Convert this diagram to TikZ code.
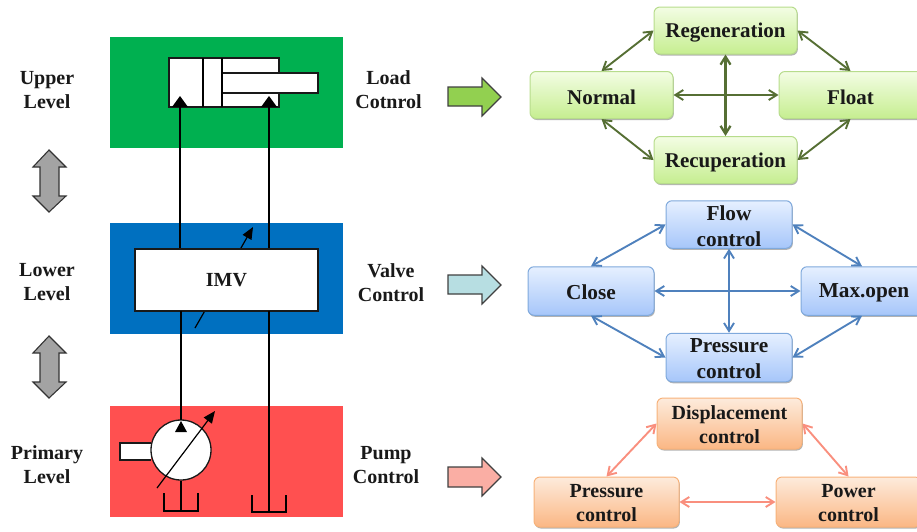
\documentclass[tikz,border=0pt]{standalone}
\usepackage{fontspec}
\setmainfont{Liberation Serif}
\usetikzlibrary{shadows,arrows.meta}
\definecolor{gTop}{HTML}{F3FDE4}\definecolor{gBot}{HTML}{C6EE90}\definecolor{gEdge}{HTML}{B7DC8C}\definecolor{gLine}{HTML}{566F34}
\definecolor{bTop}{HTML}{E6F0FF}\definecolor{bBot}{HTML}{A6C6FA}\definecolor{bEdge}{HTML}{7FA9DC}\definecolor{bLine}{HTML}{4F81BD}
\definecolor{oTop}{HTML}{FDEBDC}\definecolor{oBot}{HTML}{FBB784}\definecolor{oEdge}{HTML}{F7B27A}\definecolor{oLine}{HTML}{F98F7E}
\tikzset{
  x=1pt,y=-1pt,
  lbl/.style={font=\fontsize{20}{24}\selectfont\bfseries,align=center,text=black!90,inner sep=0pt},
  state/.style={rounded corners=6pt,line width=1pt,inner sep=0pt,
    drop shadow={shadow xshift=0.8pt,shadow yshift=-1.5pt,opacity=.3,fill=black}},
  gtext/.style={label={[yshift=-2pt,inner sep=0pt,align=center,text=black!90,font=\fontsize{21}{25}\selectfont\bfseries]center:{#1}}},
  btext/.style={label={[yshift=-1.5pt,inner sep=0pt,align=center,text=black!90,font=\fontsize{21.3}{26}\selectfont\bfseries]center:{#1}}},
  otext/.style={label={[yshift=-1.5pt,inner sep=0pt,align=center,text=black!90,font=\fontsize{20}{24}\selectfont\bfseries]center:{#1}}},
  gstate/.style={state,draw=gEdge,top color=gTop,bottom color=gBot},
  bstate/.style={state,draw=bEdge,top color=bTop,bottom color=bBot},
  ostate/.style={state,draw=oEdge,top color=oTop,bottom color=oBot},
  link/.style={line width=1.9pt,{Straight Barb[length=8pt,width=10pt]}-{Straight Barb[length=8pt,width=10pt]}},
  panel/.style={draw=none,minimum width=233pt,minimum height=111pt,inner sep=0pt},
  sym/.style={draw=black!90,line width=1.3pt,fill=white},
  pipe/.style={draw=black,line width=1.35pt},
  tip/.style={fill=black,draw=none},
  bigarrow/.style={draw=black!75,line width=1.1pt,line join=miter},
  updown/.style={draw=black!80,line width=1.1pt,fill=black!36},
  vary/.style={line width=1.2pt,-{Triangle[length=12pt,width=10pt]}}
}
\begin{document}
\begin{tikzpicture}
\useasboundingbox (0,0) rectangle (917,531);
\clip (0,0) rectangle (917,531);
% panels
\node[panel,fill={rgb,255:red,0;green,176;blue,80}] (pgreen) at (226.5,92) {};
\node[panel,fill={rgb,255:red,0;green,112;blue,192}] (pblue) at (226,278.5) {};
\node[panel,fill={rgb,255:red,255;green,80;blue,80}] (pred) at (226,461.5) {};
% left labels
\node[lbl] (upper) at (47,90) {Upper\\Level};
\node[lbl] (lower) at (47,282.5) {Lower\\Level};
\node[lbl] (primary) at (47,465) {Primary\\Level};
\node[lbl] (load) at (388.5,89.5) {Load\\Cotnrol};
\node[lbl] (valve) at (391,282.5) {Valve\\Control};
\node[lbl] (pump) at (386,465) {Pump\\Control};
% updown arrows
\draw[updown] (49,150) -- (66,167) -- (59,167) -- (59,196) -- (66,196) -- (49,212) -- (33,196) -- (40,196) -- (40,167) -- (33,167) -- cycle;
\draw[updown] (49,336) -- (66,353) -- (59,353) -- (59,382) -- (66,382) -- (49,398) -- (33,382) -- (40,382) -- (40,353) -- (33,353) -- cycle;
% big arrows
\draw[bigarrow,fill={rgb,255:red,146;green,208;blue,80}] (448,87) -- (482,87) -- (482,78) -- (501,97) -- (482,116) -- (482,106) -- (448,106) -- cycle;
\draw[bigarrow,fill={rgb,255:red,183;green,222;blue,226}] (448,275) -- (482,275) -- (482,266) -- (501,285) -- (482,304) -- (482,294) -- (448,294) -- cycle;
\draw[bigarrow,fill={rgb,255:red,250;green,174;blue,164}] (448,467) -- (482,467) -- (482,458) -- (501,477) -- (482,496) -- (482,487) -- (448,487) -- cycle;
% pump shaft and circle
\draw[sym] (151,443) -- (120,443) -- (120,460) -- (151,460);
\node[sym,circle,minimum size=60pt,inner sep=0pt] (pumpc) at (181,450) {};
% valve variable arrow
\draw[vary] (195,328) -- (253,227);
% IMV
\node[sym,minimum width=183pt,minimum height=62pt,inner sep=0pt,font=\fontsize{20}{24}\selectfont\bfseries,text=black!90] (imv) at (226.5,280) {IMV};
% cylinder
\node[sym,minimum width=110pt,minimum height=49pt,inner sep=0pt] (cyl) at (224,82.5) {};
\node[sym,minimum width=96pt,minimum height=20pt,inner sep=0pt] (rod) at (270,83) {};
\draw[pipe] (203,58) -- (203,107) (222,58) -- (222,107);
\coordinate (portA) at (180,107);
\coordinate (portB) at (269,107);
\fill[tip] (180,96) -- (188,107) -- (172,107) -- cycle;
\fill[tip] (269,96) -- (277,107) -- (261,107) -- cycle;
% pipes
\coordinate (imvA) at (180,248);
\coordinate (imvB) at (269,248);
\coordinate (imvC) at (181,311);
\coordinate (imvD) at (269,311);
\coordinate (pumpTop) at (181,420);
\coordinate (tankA) at (181,511);
\coordinate (tankB) at (269,512);
\draw[pipe] (portA) -- (imvA);
\draw[pipe] (portB) -- (imvB);
\draw[pipe] (imvC) -- (pumpTop);
\draw[pipe] (imvD) -- (tankB);
\draw[pipe] (pumpc.south) -- (tankA);
\draw[pipe] (164,493) -- (164,511) -- (198,511) -- (198,493);
\draw[pipe] (252,495) -- (252,512) -- (286,512) -- (286,495);
\fill[tip] (181,421) -- (187,432) -- (175,432) -- cycle;
\draw[vary] (157,488) -- (215,411);
% upper states
\node[gstate,gtext={Regeneration},minimum width=143pt,minimum height=47pt] (regen) at (725.5,30.5) {};
\node[gstate,gtext={Normal},minimum width=143pt,minimum height=47pt] (normal) at (601.5,95) {};
\node[gstate,gtext={Float},minimum width=143pt,minimum height=47pt] (float) at (850.5,95) {};
\node[gstate,gtext={Recuperation},minimum width=143pt,minimum height=47pt] (recup) at (725.5,160) {};
\draw[link,gLine] (regen.west) -- (normal.north);
\draw[link,gLine] (regen.east) -- (float.north);
\draw[link,gLine] (recup.west) -- (normal.south);
\draw[link,gLine] (recup.east) -- (float.south);
\draw[link,gLine] (normal.east) -- (float.west);
\draw[link,gLine,line width=2.3pt] (regen.south) -- (recup.north);
% middle states
\node[bstate,btext={Flow\\control},minimum width=126pt,minimum height=47.5pt] (flow) at (729,224.5) {};
\node[bstate,btext={Close},minimum width=126pt,minimum height=48.5pt] (close) at (591,291) {};
\node[bstate,btext={Max.open},minimum width=126pt,minimum height=48.5pt] (maxo) at (864,291) {};
\node[bstate,btext={Pressure\\control},minimum width=126pt,minimum height=48.5pt] (pres) at (729,357.5) {};
\draw[link,bLine] (flow.west) -- (close.north);
\draw[link,bLine] (flow.east) -- (maxo.north -| 862,0);
\draw[link,bLine] (pres.west) -- (close.south);
\draw[link,bLine] (pres.east) -- (maxo.south -| 862,0);
\draw[link,bLine] (close.east) -- (maxo.west);
\draw[link,bLine] (flow.south) -- (pres.north);
% lower states
\node[ostate,otext={Displacement\\control},minimum width=145pt,minimum height=51pt] (disp) at (729.5,423.5) {};
\node[ostate,otext={Pressure\\control},minimum width=145pt,minimum height=50pt] (pc) at (606.5,502) {};
\node[ostate,otext={Power\\control},minimum width=145pt,minimum height=50pt] (pw) at (848.5,502) {};
\draw[link,oLine] (disp.west) -- (pc.north);
\draw[link,oLine] (disp.east) -- (pw.north);
\draw[link,oLine] (pc.east) -- (pw.west);
\end{tikzpicture}
\end{document}
